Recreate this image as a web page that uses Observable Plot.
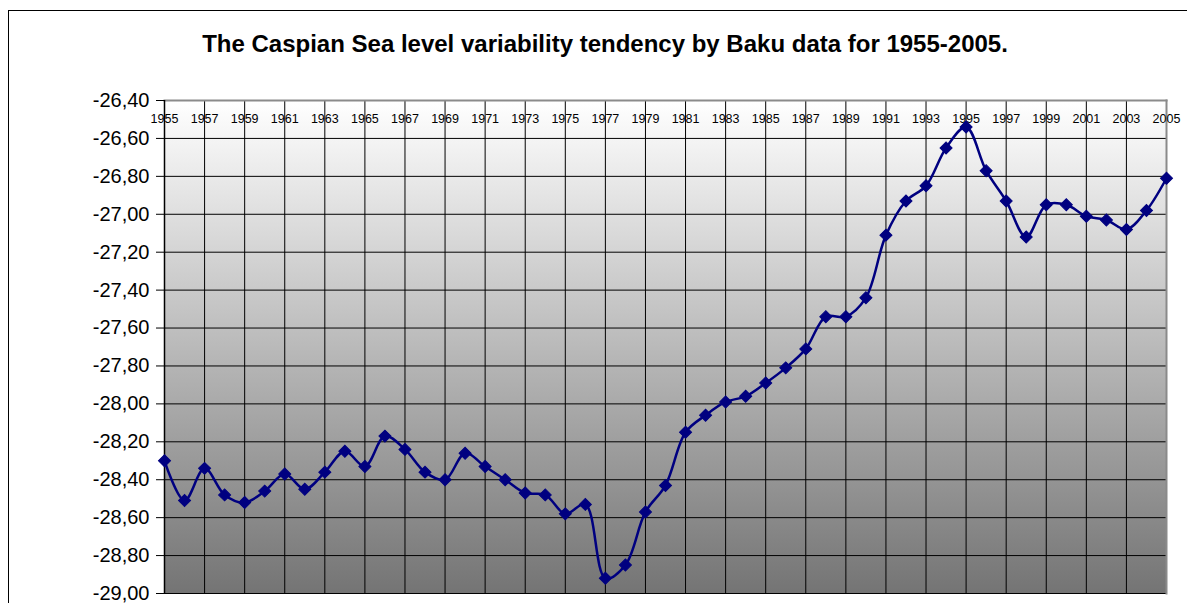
<!DOCTYPE html>
<html>
<head>
<meta charset="utf-8">
<script src="https://cdn.jsdelivr.net/npm/d3@7"></script>
<script src="https://cdn.jsdelivr.net/npm/@observablehq/plot@0.6"></script>
<style>
  html, body { margin: 0; padding: 0; background: #fff; overflow: hidden; }
  #wrap { position: relative; width: 1187px; height: 603px; overflow: hidden; font-family: "Liberation Sans", Arial, sans-serif; }
  #border { position: absolute; left: 8px; top: 10px; width: 1220px; height: 640px; border: 1px solid #000; box-sizing: border-box; }
  #title { position: absolute; left: 8px; width: 1194px; top: 30px; line-height: 28px; text-align: center; font-weight: bold; font-size: 24px; color: #000; }
  #chart { position: absolute; left: 0; top: 0; }
</style>
</head>
<body>
<div id="wrap">
  <div id="border"></div>
  <div id="title">The Caspian Sea level variability tendency by Baku data for 1955-2005.</div>
  <div id="chart"></div>
</div>
<script>
const years = d3.range(1955, 2006);
const levels = [
  -28.30, -28.51, -28.34, -28.48, -28.52, -28.46, -28.37, -28.45, -28.36, -28.25,
  -28.33, -28.17, -28.24, -28.36, -28.40, -28.26, -28.33, -28.40, -28.47, -28.48,
  -28.58, -28.53, -28.92, -28.85, -28.57, -28.43, -28.15, -28.06, -27.99, -27.96,
  -27.89, -27.81, -27.71, -27.54, -27.54, -27.44, -27.11, -26.93, -26.85, -26.65,
  -26.54, -26.77, -26.93, -27.12, -26.95, -26.95, -27.01, -27.03, -27.08, -26.98,
  -26.81
];
const yearLabels = d3.range(1955, 2006, 2);
const yTicks = [-29.0, -28.8, -28.6, -28.4, -28.2, -28.0, -27.8, -27.6, -27.4, -27.2, -27.0, -26.8, -26.6, -26.4];

const data = years.map((y, i) => ({year: y, level: levels[i]}));
const fmt = d => d.toFixed(2).replace(".", ",");

const plot = Plot.plot({
  width: 1187,
  height: 603,
  marginLeft: 164,
  marginRight: 21,
  marginTop: 100,
  marginBottom: 10,
  style: {fontFamily: "'Liberation Sans', Arial, sans-serif", background: "transparent", overflow: "visible"},
  x: {domain: [1955, 2005], axis: null},
  y: {domain: [-29.0, -26.4]},
  marks: [
    Plot.frame({fill: "url(#bggrad)", stroke: null}),
    Plot.ruleX(yearLabels, {x: d => d, stroke: "#000", strokeWidth: 1}),
    Plot.ruleY(yTicks, {y: d => d, stroke: "#000", strokeWidth: 1}),
    Plot.frame({stroke: "#8a8a8a", strokeWidth: 2, anchor: "top"}),
    Plot.frame({stroke: "#8a8a8a", strokeWidth: 2, anchor: "right"}),
    Plot.axisY(yTicks, {tickFormat: fmt, tickSize: 8, tickPadding: 7, fontSize: 20, color: "#000", label: null}),
    Plot.ruleX([1955], {stroke: "#000", strokeWidth: 1.5}),
    Plot.text(yearLabels, {x: d => d, text: d => String(d), frameAnchor: "top", dy: 14, fontSize: 12.5, fill: "#000"}),
    Plot.line(data, {x: "year", y: "level", curve: "catmull-rom", stroke: "#000080", strokeWidth: 2.5}),
    Plot.dot(data, {x: "year", y: "level", symbol: "square", r: 4.8, rotate: 45, fill: "#000080", stroke: "#000080", strokeWidth: 1})
  ]
});

const svg = d3.select(plot);
const defs = svg.insert("defs", ":first-child");
const g = defs.append("linearGradient").attr("id", "bggrad").attr("x1", 0).attr("y1", 0).attr("x2", 0).attr("y2", 1);
g.append("stop").attr("offset", "0%").attr("stop-color", "#ffffff");
g.append("stop").attr("offset", "100%").attr("stop-color", "#747474");

document.getElementById("chart").appendChild(plot);
</script>
</body>
</html>
